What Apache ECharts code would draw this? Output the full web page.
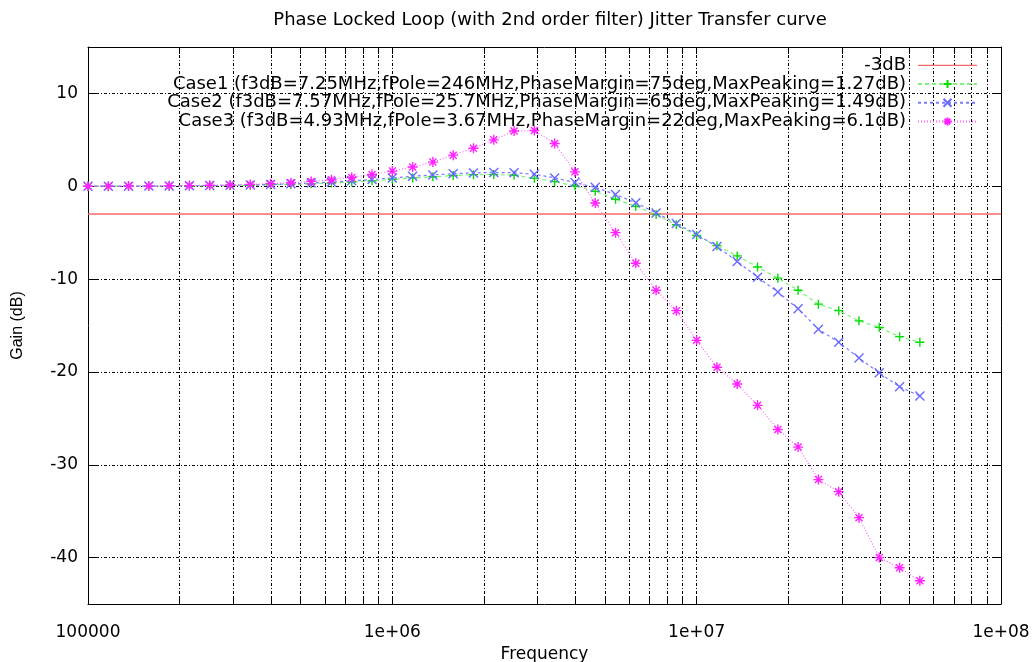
<!DOCTYPE html>
<html>
<head>
<meta charset="utf-8">
<script src="https://cdn.jsdelivr.net/npm/echarts@6/dist/echarts.min.js"></script>
<style>
  html, body { margin: 0; padding: 0; background: #fff; }
  #chart { width: 1035px; height: 662px; }
</style>
</head>
<body>
<div id="chart"></div>
<script>
// frequencies of the measured points (Hz)
const freqs = [
  100000, 116600, 135900, 158500, 184800, 215400, 251200, 292900, 341500, 398100,
  464200, 541200, 631000, 735600, 857700, 1000000, 1166000, 1359000, 1585000, 1848000,
  2154000, 2512000, 2929000, 3415000, 3981000, 4642000, 5412000, 6310000, 7356000, 8577000,
  10000000, 11660000, 13590000, 15850000, 18480000, 21540000, 25120000, 29290000, 34150000, 39810000,
  46420000, 54120000
];

const case1 = [
  0.00, 0.01, 0.01, 0.02, 0.03, 0.04, 0.06, 0.08, 0.11, 0.15,
  0.20, 0.26, 0.35, 0.45, 0.58, 0.75, 0.90, 1.02, 1.15, 1.25,
  1.27, 1.18, 0.85, 0.50, 0.02, -0.55, -1.40, -2.15, -3.05, -4.15,
  -5.30, -6.40, -7.50, -8.70, -9.90, -11.2, -12.7, -13.4, -14.5, -15.2,
  -16.2, -16.8
];

const case2 = [
  0.00, 0.01, 0.01, 0.02, 0.03, 0.05, 0.07, 0.10, 0.14, 0.19,
  0.26, 0.34, 0.45, 0.58, 0.72, 0.90, 1.08, 1.22, 1.35, 1.44,
  1.49, 1.46, 1.30, 0.90, 0.40, -0.12, -0.88, -1.78, -2.87, -4.00,
  -5.20, -6.50, -8.10, -9.80, -11.4, -13.2, -15.4, -16.8, -18.5, -20.1,
  -21.6, -22.6
];

const case3 = [
  0.00, 0.01, 0.02, 0.03, 0.05, 0.07, 0.10, 0.14, 0.20, 0.28,
  0.38, 0.52, 0.70, 0.95, 1.27, 1.63, 2.08, 2.60, 3.35, 4.10,
  5.00, 5.95, 6.00, 4.60, 1.55, -1.80, -5.00, -8.30, -11.2, -13.4,
  -16.6, -19.5, -21.3, -23.6, -26.2, -28.1, -31.6, -32.9, -35.7, -40.0,
  -41.1, -42.5
];

const cutoff = -3;
const xRange = [100000, 100000000];
const yRange = [-45, 15];
const yTicks = [-40, -30, -20, -10, 0, 10];
const xLabels = [100000, 1000000, 10000000, 100000000];
const xTicks = [];
[100000, 1000000, 10000000].forEach(d => {
  for (let m = 1; m <= 9; m++) xTicks.push(d * m);
});
xTicks.push(100000000);

const names = [
  "-3dB",
  "Case1 (f3dB=7.25MHz,fPole=246MHz,PhaseMargin=75deg,MaxPeaking=1.27dB)",
  "Case2 (f3dB=7.57MHz,fPole=25.7MHz,PhaseMargin=65deg,MaxPeaking=1.49dB)",
  "Case3 (f3dB=4.93MHz,fPole=3.67MHz,PhaseMargin=22deg,MaxPeaking=6.1dB)"
];

const PLUS = "path://M0,5L10,5M5,0L5,10";
const CROSS = "path://M0,0L10,10M0,10L10,0";
const STAR = "path://M0,5L10,5M5,0L5,10M1.5,1.5L8.5,8.5M1.5,8.5L8.5,1.5";
// plain line for the -3dB legend entry (tiny slivers keep the box 10 high)
const BAR = "path://M0,0L59,0L59,0.01ZM0,4.3L59,4.3L59,5.7L0,5.7ZM0,10L59,10L59,10.01Z";

const FONT = "DejaVu Sans";
const gridDash = [3, 2, 1, 2];

function pairs(ys) {
  return freqs.map((f, i) => [f, ys[i]]);
}

function fmtX(v) {
  const e = Math.round(Math.log10(v));
  if (e < 6) return String(v);
  return "1e+" + String(e).padStart(2, "0");
}

const chart = echarts.init(document.getElementById("chart"));

const xBase = {
  type: "log",
  min: xRange[0],
  max: xRange[1],
  axisLine: { show: true, onZero: false, lineStyle: { color: "#000", width: 1 } },
  axisTick: { show: true, inside: true, length: 7, customValues: xTicks, lineStyle: { color: "#000" } },
  minorTick: { show: false },
};

const yBase = {
  type: "value",
  min: yRange[0],
  max: yRange[1],
  axisLine: { show: true, onZero: false, lineStyle: { color: "#000", width: 1 } },
  axisTick: { show: true, inside: true, length: 9, customValues: yTicks, lineStyle: { color: "#000" } },
};

const option = {
  animation: false,
  backgroundColor: "#fff",
  title: {
    text: "Phase Locked Loop (with 2nd order filter) Jitter Transfer curve",
    left: 545,
    textAlign: "center",
    top: 6,
    textStyle: { fontFamily: FONT, fontSize: 18, fontWeight: "normal", color: "#000" },
  },
  legend: {
    orient: "vertical",
    right: 57,
    top: 56,
    padding: 0,
    align: "right",
    itemWidth: 59,
    itemHeight: 10,
    itemGap: 0,
    data: [{ name: names[0], icon: BAR }, names[1], names[2], names[3]],
    textStyle: { fontFamily: FONT, fontSize: 18, color: "#000", lineHeight: 18.7, padding: [0, 7, 0, 0] },
  },
  grid: { left: 88, right: 34, top: 47, bottom: 58, outerBoundsMode: "none" },
  xAxis: [
    Object.assign({}, xBase, {
      position: "bottom",
      name: "Frequency",
      nameLocation: "middle",
      nameGap: 35,
      nameTextStyle: { fontFamily: FONT, fontSize: 17, color: "#000" },
      axisLabel: {
        customValues: xLabels,
        formatter: fmtX,
        margin: 20,
        fontFamily: FONT,
        fontSize: 17,
        color: "#000",
      },
      splitLine: { show: true, lineStyle: { color: "#000", type: gridDash, width: 1 } },
    }),
    Object.assign({}, xBase, {
      position: "top",
      axisLabel: { show: false },
      splitLine: { show: false },
    }),
  ],
  yAxis: [
    Object.assign({}, yBase, {
      position: "left",
      name: "Gain (dB)",
      nameLocation: "middle",
      nameGap: 62,
      nameRotate: 90,
      nameTextStyle: { fontFamily: "Liberation Sans", fontSize: 16, color: "#000" },
      axisLabel: {
        customValues: yTicks,
        margin: 10,
        fontFamily: FONT,
        fontSize: 17,
        color: "#000",
      },
      splitLine: { show: true, lineStyle: { color: "#000", type: gridDash, width: 1 } },
    }),
    Object.assign({}, yBase, {
      position: "right",
      axisLabel: { show: false },
      splitLine: { show: false },
    }),
  ],
  series: [
    {
      name: names[0],
      type: "line",
      data: [[xRange[0], cutoff], [xRange[1], cutoff]],
      symbol: "none",
      lineStyle: { color: "#f46a6a", width: 1.5, type: "solid" },
      itemStyle: { color: "#f46a6a" },
      z: 3,
    },
    {
      name: names[1],
      type: "line",
      data: pairs(case1),
      symbol: PLUS,
      symbolSize: 9,
      lineStyle: { color: "#80ee80", width: 1.2, type: [4, 3] },
      itemStyle: { color: "#00dd00", borderColor: "#00dd00", borderWidth: 1.4 },
      z: 4,
    },
    {
      name: names[2],
      type: "line",
      data: pairs(case2),
      symbol: CROSS,
      symbolSize: 9,
      lineStyle: { color: "#7a7aff", width: 1.2, type: [3, 3] },
      itemStyle: { color: "#6a6aff", borderColor: "#6a6aff", borderWidth: 1.4 },
      z: 5,
    },
    {
      name: names[3],
      type: "line",
      data: pairs(case3),
      symbol: STAR,
      symbolSize: 10,
      lineStyle: { color: "#ff66ff", width: 1.2, type: [1, 2] },
      itemStyle: { color: "#ff22ff", borderColor: "#ff22ff", borderWidth: 1.4 },
      z: 6,
    },
  ],
};

chart.setOption(option);
</script>
</body>
</html>
